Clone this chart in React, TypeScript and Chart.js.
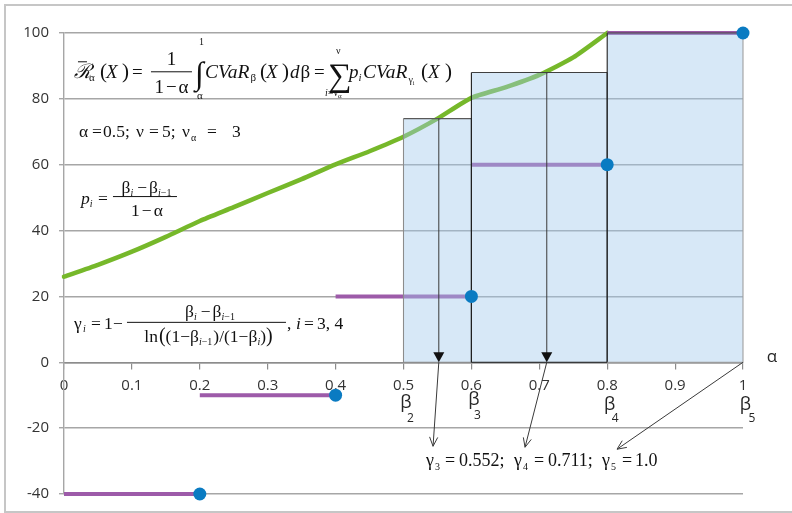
import React, { useEffect, useRef } from 'react';
import { Chart, registerables } from 'chart.js';

Chart.register(...registerables);

// ---------- data ----------
const curveX = [0, 0.05, 0.1, 0.15, 0.2, 0.25, 0.3, 0.35, 0.4, 0.45, 0.5, 0.55, 0.6, 0.65, 0.7, 0.75, 0.8];
const curveY = [26, 29.6, 33.6, 38.1, 42.9, 47.1, 51.4, 55.6, 60.1, 64.1, 68.5, 74.0, 80.3, 83.5, 87.3, 92.6, 100];
const stepEdges = [0, 0.2, 0.4, 0.6, 0.8, 1.0];
const stepLevels = [-40, -10, 20, 60, 100];
const betaEdges = [0.5, 0.6, 0.8, 1.0];
const rectHeights = [74, 88, 100];
const gammaValues = [0.552, 0.711, 1.0];
const betaLabels = ['2', '3', '4', '5'];
const X_MIN = 0, X_MAX = 1, X_STEP = 0.1;
const Y_MIN = -40, Y_MAX = 100, Y_STEP = 20;

// ---------- styles ----------
const SERIF = '"Liberation Serif", "Times New Roman", "DejaVu Serif", serif';
const SANS = '"Open Sans", "Noto Sans", sans-serif';
const GREEN = '#76b82a';
const PURPLE = '#9d5ba9';
const DOT = '#0a7bc2';
const RECT_FILL = 'rgba(160,200,237,0.42)';
const rectEdgeColors = [
  ['#8c8c8c', '#595959', '#1f1f1f', '#8c8c8c'],
  ['#1f1f1f', '#404040', '#1f1f1f', '#1f1f1f'],
  ['#1f1f1f', '#404040', '#a0a0a0', '#a0a0a0'],
];

// annotation anchors (data units)
const anchors = {
  f1: { x: 0.0147, y: 86.4 },
  f2: { x: 0.0221, y: 68.5 },
  f3: { x: 0.025, y: 48.2 },
  f4: { x: 0.0147, y: 10.0 },
  f5: { x: 0.5331, y: -31.5 },
  alpha: { x: 1.0427, y: 0 },
};
const arrowTargets = [
  { x: 0.5435, y: -25.5 },
  { x: 0.679, y: -25.8 },
  { x: 0.8145, y: -26.4 },
];

type Tok = { t: string; x?: number; dy?: number; sz?: number; it?: boolean; gap?: number };

function setFont(ctx: CanvasRenderingContext2D, sz: number, it?: boolean) {
  ctx.font = `${it ? 'italic ' : ''}${sz}px ${SERIF}`;
}
function runWidth(ctx: CanvasRenderingContext2D, toks: Tok[], base: number) {
  let w = 0;
  for (const k of toks) {
    setFont(ctx, k.sz ?? base, k.it);
    w += (k.gap ?? 0) + ctx.measureText(k.t).width;
  }
  return w;
}
function drawRun(ctx: CanvasRenderingContext2D, ox: number, oy: number, toks: Tok[], base: number) {
  let pen = 0;
  for (const k of toks) {
    setFont(ctx, k.sz ?? base, k.it);
    if (k.x !== undefined) pen = k.x;
    pen += k.gap ?? 0;
    ctx.fillText(k.t, ox + pen, oy + (k.dy ?? 0));
    pen += ctx.measureText(k.t).width;
  }
}
function drawCentered(ctx: CanvasRenderingContext2D, cx: number, y: number, toks: Tok[], base: number) {
  const w = runWidth(ctx, toks, base);
  drawRun(ctx, cx - w / 2, y, toks, base);
}
function hline(ctx: CanvasRenderingContext2D, x1: number, x2: number, y: number, w = 1) {
  ctx.beginPath();
  ctx.lineWidth = w;
  ctx.moveTo(x1, y);
  ctx.lineTo(x2, y);
  ctx.stroke();
}

const SUB = (t: string, it = false, sz = 10, dy = 3): Tok => ({ t, it, sz, dy });

const annotPlugin = {
  id: 'annot',
  afterDatasetsDraw(chart: any) {
    const ctx: CanvasRenderingContext2D = chart.ctx;
    const xs = chart.scales.x, ys = chart.scales.y;
    const X = (v: number) => xs.getPixelForValue(v);
    const Y = (v: number) => ys.getPixelForValue(v);
    ctx.save();

    // ---- gamma arrows ----
    ctx.strokeStyle = '#3a3a3a';
    ctx.fillStyle = '#111';
    ctx.lineWidth = 1;
    const y0 = Y(0);
    gammaValues.forEach((g, i) => {
      const gx = X(g);
      if (g < 1) {
        ctx.beginPath();
        ctx.moveTo(gx, Y(rectHeights[i]));
        ctx.lineTo(gx, y0 - 9);
        ctx.stroke();
        ctx.beginPath();
        ctx.moveTo(gx, y0);
        ctx.lineTo(gx - 5.5, y0 - 10);
        ctx.lineTo(gx + 5.5, y0 - 10);
        ctx.closePath();
        ctx.fill();
      }
      const tx = X(arrowTargets[i].x), ty = Y(arrowTargets[i].y);
      ctx.beginPath();
      ctx.moveTo(gx, y0);
      ctx.lineTo(tx, ty);
      ctx.stroke();
      const ang = Math.atan2(ty - y0, tx - gx);
      const L = 10, a = 0.42;
      ctx.beginPath();
      ctx.moveTo(tx - L * Math.cos(ang - a), ty - L * Math.sin(ang - a));
      ctx.lineTo(tx, ty);
      ctx.lineTo(tx - L * Math.cos(ang + a), ty - L * Math.sin(ang + a));
      ctx.stroke();
    });

    // ---- formulas ----
    ctx.fillStyle = '#111';
    ctx.strokeStyle = '#111';
    ctx.textBaseline = 'alphabetic';
    ctx.textAlign = 'left';

    // formula 1
    {
      const ox = X(anchors.f1.x), oy = Y(anchors.f1.y);
      const B = 19;
      drawRun(ctx, ox, oy, [
        { t: 'ℛ', x: 0, it: true, sz: 20 },
        { t: 'α', x: 15, sz: 11, dy: 3 },
        { t: '(', x: 26, sz: 21 },
        { t: 'X', x: 32, it: true },
        { t: ')', x: 48, sz: 21 },
        { t: '=', x: 58 },
        { t: '∫', x: 121, sz: 32, dy: 6 },
        { t: '1', x: 125, sz: 10, dy: -33 },
        { t: 'α', x: 123, sz: 11, dy: 21 },
        { t: 'CVaR', x: 131, it: true, sz: 19.5 },
        { t: 'β', sz: 11, dy: 3, gap: 1 },
        { t: '(', x: 186, sz: 21 },
        { t: 'X', x: 192, it: true },
        { t: ')', x: 208, sz: 21 },
        { t: 'd', x: 216, it: true },
        { t: 'β', gap: 1 },
        { t: '=', x: 240 },
        { t: '∑', x: 254, sz: 33, dy: 8 },
        { t: 'ν', x: 262, sz: 10, dy: -24 },
        { t: 'i', x: 251, it: true, sz: 10, dy: 18 },
        { t: '=ν', sz: 10, dy: 18 },
        { t: 'α', sz: 7, dy: 20 },
        { t: 'p', x: 275, it: true },
        { t: 'i', it: true, sz: 11, dy: 3 },
        { t: 'CVaR', x: 289, it: true, sz: 19.5 },
        { t: 'γ', sz: 10, dy: 5, gap: 1 },
        { t: 'i', sz: 6, dy: 7 },
        { t: '(', x: 347, sz: 21 },
        { t: 'X', x: 354, it: true },
        { t: ')', x: 371, sz: 21 },
      ], B);
      hline(ctx, ox + 4, ox + 13, oy - 16, 1);
      hline(ctx, ox + 77, ox + 118, oy - 6, 1);
      drawCentered(ctx, ox + 97.5, oy - 13, [{ t: '1' }], B);
      drawCentered(ctx, ox + 97.5, oy + 15, [{ t: '1' }, { t: '−', gap: 2 }, { t: 'α', gap: 2 }], B);
    }

    // formula 2
    {
      const ox = X(anchors.f2.x), oy = Y(anchors.f2.y);
      drawRun(ctx, ox, oy, [
        { t: 'α', x: 0 }, { t: '=', x: 13 }, { t: '0.5;', x: 24 },
        { t: 'ν', x: 57 }, { t: '=', x: 70 }, { t: '5;', x: 83 },
        { t: 'ν', x: 103 }, { t: 'α', x: 112, sz: 10, dy: 4 }, { t: '=', x: 128 }, { t: '3', x: 153 },
      ], 17.5);
    }

    // formula 3
    {
      const ox = X(anchors.f3.x), oy = Y(anchors.f3.y);
      const B = 17.5;
      drawRun(ctx, ox, oy, [
        { t: 'p', x: 0, it: true }, SUB('i', true, 10, 3), { t: '=', x: 17 },
      ], B);
      hline(ctx, ox + 32, ox + 96, oy - 7, 1);
      drawCentered(ctx, ox + 65.5, oy - 11, [
        { t: 'β' }, SUB('i', true), { t: '−', gap: 4 }, { t: 'β', gap: 2 }, SUB('i', true), SUB('−1'),
      ], B);
      drawCentered(ctx, ox + 66, oy + 12, [{ t: '1' }, { t: '−', gap: 2 }, { t: 'α', gap: 2 }], B);
    }

    // formula 4
    {
      const ox = X(anchors.f4.x), oy = Y(anchors.f4.y);
      const B = 17.5;
      drawRun(ctx, ox, oy, [
        { t: 'γ', x: 0 }, { t: 'i', x: 9, it: true, sz: 10, dy: 3 }, { t: '=', x: 17 },
        { t: '1', x: 30 }, { t: '−', x: 39 },
        { t: ',', x: 213 }, { t: 'i', x: 222, it: true }, { t: '=', x: 230 }, { t: '3, 4', x: 243 },
      ], B);
      hline(ctx, ox + 53, ox + 212, oy - 7, 1);
      drawCentered(ctx, ox + 136, oy - 12, [
        { t: 'β' }, SUB('i', true), { t: '−', gap: 4 }, { t: 'β', gap: 2 }, SUB('i', true), SUB('−1'),
      ], B);
      drawCentered(ctx, ox + 134.5, oy + 13, [
        { t: 'ln' }, { t: '(', sz: 20, gap: 1 }, { t: '(1−' }, { t: 'β' }, SUB('i', true), SUB('−1'),
        { t: ')/(1−', gap: 1 }, { t: 'β' }, SUB('i', true), { t: ')' }, { t: ')', sz: 20 },
      ], B);
    }

    // formula 5
    {
      const ox = X(anchors.f5.x), oy = Y(anchors.f5.y);
      drawRun(ctx, ox, oy, [
        { t: 'γ', x: 0 }, { t: '3', x: 9, sz: 10, dy: 4 }, { t: '=', x: 19 }, { t: '0.552;', x: 33 },
        { t: 'γ', x: 88 }, { t: '4', x: 97, sz: 10, dy: 4 }, { t: '=', x: 108 }, { t: '0.711;', x: 122 },
        { t: 'γ', x: 176 }, { t: '5', x: 185, sz: 10, dy: 4 }, { t: '=', x: 196 }, { t: '1.0', x: 209 },
      ], 18);
    }

    // axis name alpha and beta labels (sans)
    ctx.fillStyle = '#262626';
    ctx.textAlign = 'center';
    ctx.font = `17px ${SANS}`;
    ctx.fillText('α', X(anchors.alpha.x), Y(anchors.alpha.y));
    const bBase = [46, 43, 48, 48];
    const sBase = [60, 57, 60, 60];
    const sDx = [7, 6, 8, 9];
    betaEdges.forEach((b, i) => {
      const bx = X(b);
      ctx.textAlign = 'center';
      ctx.font = `18px ${SANS}`;
      ctx.fillText('β', bx + 2.5, y0 + bBase[i]);
      ctx.font = `12px ${SANS}`;
      ctx.fillText(betaLabels[i], bx + sDx[i], y0 + sBase[i]);
    });

    ctx.restore();
  },
};

export default function App() {
  const ref = useRef<HTMLCanvasElement | null>(null);
  useEffect(() => {
    if (!ref.current) return;

    const stepData: any[] = [];
    stepLevels.forEach((lv, i) => {
      stepData.push({ x: stepEdges[i], y: lv }, { x: stepEdges[i + 1], y: lv }, { x: stepEdges[i + 1], y: null });
    });
    const dotData = stepLevels.map((lv, i) => ({ x: stepEdges[i + 1], y: lv }));
    const rectSets = rectHeights.map((h, i) => {
      const a = betaEdges[i], b = betaEdges[i + 1];
      return {
        type: 'line',
        data: [{ x: a, y: 0 }, { x: a, y: h }, { x: b, y: h }, { x: b, y: 0 }, { x: a, y: 0 }],
        borderColor: '#404040',
        borderWidth: 1.1,
        backgroundColor: RECT_FILL,
        fill: 'origin',
        pointRadius: 0,
        tension: 0,
        clip: false,
        segment: { borderColor: (c: any) => rectEdgeColors[i][c.p0DataIndex] },
      };
    });

    const chart = new Chart(ref.current, {
      type: 'line',
      data: {
        datasets: [
          { data: dotData, showLine: false, pointRadius: 6.5, pointBackgroundColor: DOT, pointBorderWidth: 0, pointBorderColor: DOT, clip: false } as any,
          rectSets[2], rectSets[1], rectSets[0],
          { data: stepData, borderColor: PURPLE, borderWidth: 4, pointRadius: 0, spanGaps: false, clip: false, borderCapStyle: 'butt' },
          {
            data: curveX.map((x, i) => ({ x, y: curveY[i] })),
            borderColor: GREEN, borderWidth: 4.5, pointRadius: 0, tension: 0.2, clip: false,
            borderJoinStyle: 'round', borderCapStyle: 'round',
          },
        ] as any,
      },
      options: {
        animation: false,
        responsive: false,
        devicePixelRatio: 1,
        layout: { padding: { left: 0, top: 33, right: 49, bottom: 18 } },
        plugins: { legend: { display: false }, tooltip: { enabled: false }, title: { display: false } },
        scales: {
          x: {
            type: 'linear',
            min: X_MIN, max: X_MAX,
            position: { y: 0 } as any,
            grid: { drawOnChartArea: false, drawTicks: true, tickLength: 6, color: '#8c8c8c', lineWidth: 1.2 },
            border: { display: true, color: '#8c8c8c', width: 1.5 },
            ticks: {
              stepSize: X_STEP, autoSkip: false, maxRotation: 0, padding: 8,
              color: '#333', font: { family: SANS, size: 15 },
              callback: (v: any) => String(Math.round(Number(v) * 10) / 10),
            },
          },
          y: {
            type: 'linear',
            min: Y_MIN, max: Y_MAX,
            grid: { color: '#a6a6a6', lineWidth: 1.4, tickLength: 5 },
            border: { display: true, color: '#a6a6a6', width: 1.4 },
            ticks: { stepSize: Y_STEP, padding: 10, color: '#333', font: { family: SANS, size: 15 } },
            afterFit: (s: any) => { s.width = 64; },
          },
        },
      } as any,
      plugins: [annotPlugin],
    });
    return () => chart.destroy();
  }, []);

  return (
    <div style={{ position: 'absolute', left: 0, top: 0, width: 792, height: 513, overflow: 'hidden', background: '#fff' }}>
      <canvas ref={ref} width={792} height={513} style={{ display: 'block', width: 792, height: 513 }} />
      <div style={{ position: 'absolute', left: 4, top: 4, width: 820, height: 509, border: '2px solid #c6c6c6', boxSizing: 'border-box', pointerEvents: 'none' }} />
    </div>
  );
}
